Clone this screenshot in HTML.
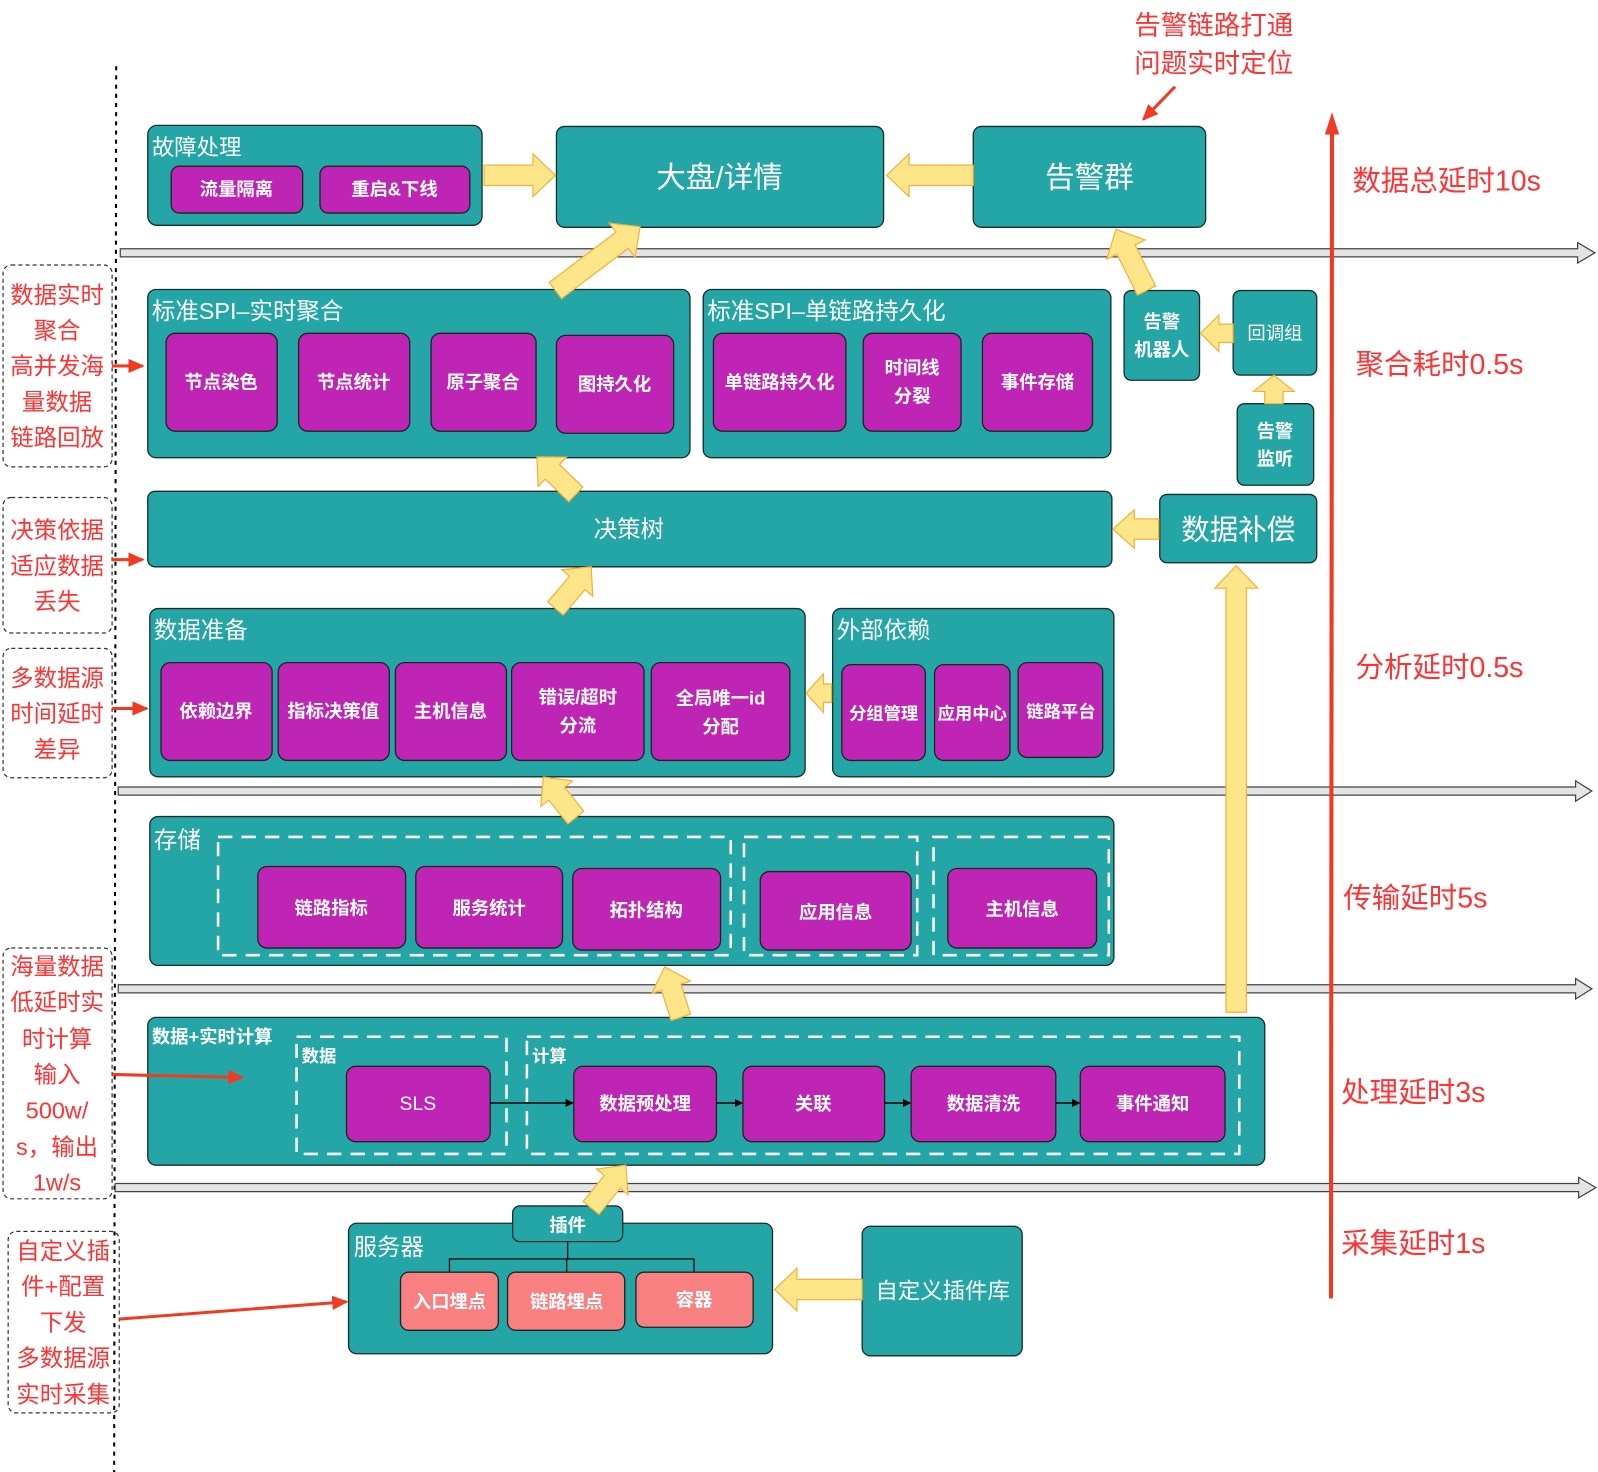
<!DOCTYPE html>
<html><head><meta charset="utf-8"><style>
html,body{margin:0;padding:0;background:#fff;width:1598px;height:1472px;overflow:hidden}
svg text{font-family:"Liberation Sans","Noto Sans CJK SC",sans-serif;}
.t{fill:#fff;font-weight:bold}
.r{fill:#f33;}
</style></head><body>
<svg width="1598" height="1472" viewBox="0 0 1568 1444" preserveAspectRatio="none" xmlns="http://www.w3.org/2000/svg">
<defs>
<marker id="bk" markerWidth="8" markerHeight="8" refX="7" refY="4" orient="auto" markerUnits="userSpaceOnUse"><path d="M0,0L8,4L0,8Z" fill="#000"/></marker>
<marker id="rd" markerWidth="16" markerHeight="14" refX="14" refY="7" orient="auto" markerUnits="userSpaceOnUse"><path d="M0,0L16,7L0,14Z" fill="#ee3b22"/></marker>
</defs>
<style>
.tb{fill:#24a6a6;stroke:#1b2e2e;stroke-width:1.3}
.pb{fill:#bf25b5;stroke:#222;stroke-width:1.3}
.sb{fill:#f88080;stroke:#222;stroke-width:1.3}
.ya{fill:#fde58a;stroke:#f2b13c;stroke-width:1.2}
.dash{fill:none;stroke:#fff;stroke-width:2.5;stroke-dasharray:14,9}
.nb{fill:none;stroke:#333;stroke-width:1.2;stroke-dasharray:4,3}
.sep{fill:#e4e4e4;stroke:#444;stroke-width:1.2}
</style>

<!-- dotted vertical -->
<line x1="114" y1="65" x2="112" y2="1444" stroke="#000" stroke-width="2" stroke-dasharray="4,5"/>

<!-- separators -->
<path class="sep" d="M118,244 H1548 V238 L1565,248 L1548,258 V252 H118 Z"/>
<path class="sep" d="M116,772 H1546 V766 L1562,776 L1546,786 V780 H116 Z"/>
<path class="sep" d="M116,966 H1546 V960 L1562,970 L1546,980 V974 H116 Z"/>
<path class="sep" d="M113,1161 H1549 V1155 L1566,1165 L1549,1175 V1169 H113 Z"/>

<!-- 故障处理 -->
<rect class="tb" x="145" y="123" width="328" height="98" rx="9"/>
<text class="t" x="149" y="152" font-size="22" font-weight="normal" style="font-weight:normal">故障处理</text>
<rect class="pb" x="168" y="163" width="129" height="46" rx="8"/>
<text class="t" x="232" y="192" font-size="18" text-anchor="middle">流量隔离</text>
<rect class="pb" x="314" y="163" width="147" height="46" rx="8"/>
<text class="t" x="387" y="192" font-size="18" text-anchor="middle">重启&amp;下线</text>

<rect class="tb" x="546" y="124" width="321" height="99" rx="8"/>
<text class="t" x="706" y="184" font-size="29" text-anchor="middle" style="font-weight:normal">大盘/详情</text>
<rect class="tb" x="955" y="124" width="228" height="99" rx="8"/>
<text class="t" x="1069" y="184" font-size="29" text-anchor="middle" style="font-weight:normal">告警群</text>

<!-- SPI 实时聚合 -->
<rect class="tb" x="145" y="284" width="532" height="165" rx="8"/>
<text class="t" x="149" y="313" font-size="23" style="font-weight:normal">标准SPI–实时聚合</text>
<rect class="pb" x="163" y="327" width="109" height="96" rx="9"/><text class="t" x="217" y="381" font-size="18" text-anchor="middle">节点染色</text>
<rect class="pb" x="293" y="327" width="109" height="96" rx="9"/><text class="t" x="347" y="381" font-size="18" text-anchor="middle">节点统计</text>
<rect class="pb" x="423" y="327" width="103" height="96" rx="9"/><text class="t" x="474" y="381" font-size="18" text-anchor="middle">原子聚合</text>
<rect class="pb" x="546" y="329" width="115" height="96" rx="9"/><text class="t" x="603" y="383" font-size="18" text-anchor="middle">图持久化</text>

<!-- SPI 单链路 -->
<rect class="tb" x="690" y="284" width="400" height="165" rx="8"/>
<text class="t" x="694" y="313" font-size="23" style="font-weight:normal">标准SPI–单链路持久化</text>
<rect class="pb" x="700" y="327" width="130" height="96" rx="9"/><text class="t" x="765" y="381" font-size="18" text-anchor="middle">单链路持久化</text>
<rect class="pb" x="847" y="327" width="96" height="96" rx="9"/><text class="t" x="895" y="367" font-size="18" text-anchor="middle">时间线</text><text class="t" x="895" y="395" font-size="18" text-anchor="middle">分裂</text>
<rect class="pb" x="964" y="327" width="108" height="96" rx="9"/><text class="t" x="1018" y="381" font-size="18" text-anchor="middle">事件存储</text>

<rect class="tb" x="1103" y="285" width="74" height="88" rx="7"/>
<text class="t" x="1140" y="322" font-size="18" text-anchor="middle">告警</text><text class="t" x="1140" y="349" font-size="18" text-anchor="middle">机器人</text>
<rect class="tb" x="1210" y="285" width="82" height="83" rx="7"/>
<text class="t" x="1251" y="333" font-size="18" text-anchor="middle" style="font-weight:normal">回调组</text>
<rect class="tb" x="1214" y="396" width="75" height="80" rx="7"/>
<text class="t" x="1251" y="429" font-size="18" text-anchor="middle">告警</text><text class="t" x="1251" y="456" font-size="18" text-anchor="middle">监听</text>

<!-- 决策树 -->
<rect class="tb" x="145" y="482" width="946" height="74" rx="7"/>
<text class="t" x="617" y="527" font-size="23" text-anchor="middle" style="font-weight:normal">决策树</text>
<rect class="tb" x="1138" y="485" width="154" height="67" rx="7"/>
<text class="t" x="1215" y="529" font-size="28" text-anchor="middle" style="font-weight:normal">数据补偿</text>

<!-- 数据准备 -->
<rect class="tb" x="147" y="597" width="643" height="165" rx="8"/>
<text class="t" x="151" y="626" font-size="23" style="font-weight:normal">数据准备</text>
<rect class="pb" x="158" y="650" width="109" height="96" rx="9"/><text class="t" x="212" y="704" font-size="18" text-anchor="middle">依赖边界</text>
<rect class="pb" x="273" y="650" width="109" height="96" rx="9"/><text class="t" x="327" y="704" font-size="18" text-anchor="middle">指标决策值</text>
<rect class="pb" x="388" y="650" width="109" height="96" rx="9"/><text class="t" x="442" y="704" font-size="18" text-anchor="middle">主机信息</text>
<rect class="pb" x="502" y="650" width="130" height="96" rx="9"/><text class="t" x="567" y="690" font-size="18" text-anchor="middle">错误/超时</text><text class="t" x="567" y="718" font-size="18" text-anchor="middle">分流</text>
<rect class="pb" x="639" y="650" width="136" height="96" rx="9"/><text class="t" x="707" y="691" font-size="18" text-anchor="middle">全局唯一id</text><text class="t" x="707" y="719" font-size="18" text-anchor="middle">分配</text>

<rect class="tb" x="817" y="597" width="276" height="165" rx="8"/>
<text class="t" x="821" y="626" font-size="23" style="font-weight:normal">外部依赖</text>
<rect class="pb" x="826" y="652" width="82" height="94" rx="9"/><text class="t" x="867" y="706" font-size="17" text-anchor="middle">分组管理</text>
<rect class="pb" x="917" y="652" width="74" height="94" rx="9"/><text class="t" x="954" y="706" font-size="17" text-anchor="middle">应用中心</text>
<rect class="pb" x="999" y="650" width="83" height="93" rx="9"/><text class="t" x="1041" y="704" font-size="17" text-anchor="middle">链路平台</text>

<!-- 存储 -->
<rect class="tb" x="147" y="801" width="946" height="146" rx="8"/>
<text class="t" x="151" y="832" font-size="23" style="font-weight:normal">存储</text>
<rect class="dash" x="214" y="821" width="503" height="116"/>
<rect class="dash" x="730" y="821" width="170" height="116"/>
<rect class="dash" x="916" y="821" width="172" height="116"/>
<rect class="pb" x="253" y="850" width="145" height="80" rx="9"/><text class="t" x="325" y="897" font-size="18" text-anchor="middle">链路指标</text>
<rect class="pb" x="408" y="850" width="144" height="80" rx="9"/><text class="t" x="480" y="897" font-size="18" text-anchor="middle">服务统计</text>
<rect class="pb" x="562" y="852" width="145" height="80" rx="9"/><text class="t" x="634" y="899" font-size="18" text-anchor="middle">拓扑结构</text>
<rect class="pb" x="746" y="855" width="148" height="77" rx="9"/><text class="t" x="820" y="901" font-size="18" text-anchor="middle">应用信息</text>
<rect class="pb" x="930" y="852" width="146" height="78" rx="9"/><text class="t" x="1003" y="898" font-size="18" text-anchor="middle">主机信息</text>

<!-- 数据+实时计算 -->
<rect class="tb" x="145" y="998" width="1096" height="145" rx="8"/>
<text class="t" x="149" y="1023" font-size="18">数据+实时计算</text>
<rect class="dash" x="291" y="1017" width="206" height="115"/>
<rect class="dash" x="517" y="1017" width="699" height="115"/>
<text class="t" x="296" y="1042" font-size="17">数据</text>
<text class="t" x="522" y="1042" font-size="17">计算</text>
<rect class="pb" x="340" y="1046" width="141" height="74" rx="9"/><text class="t" x="410" y="1089" font-size="19" text-anchor="middle" style="font-weight:normal">SLS</text>
<rect class="pb" x="563" y="1046" width="140" height="74" rx="9"/><text class="t" x="633" y="1089" font-size="18" text-anchor="middle">数据预处理</text>
<rect class="pb" x="729" y="1046" width="139" height="74" rx="9"/><text class="t" x="798" y="1089" font-size="18" text-anchor="middle">关联</text>
<rect class="pb" x="894" y="1046" width="142" height="74" rx="9"/><text class="t" x="965" y="1089" font-size="18" text-anchor="middle">数据清洗</text>
<rect class="pb" x="1060" y="1046" width="142" height="74" rx="9"/><text class="t" x="1131" y="1089" font-size="18" text-anchor="middle">事件通知</text>
<line x1="481" y1="1082" x2="562" y2="1082" stroke="#000" stroke-width="1.5" marker-end="url(#bk)"/>
<line x1="703" y1="1082" x2="728" y2="1082" stroke="#000" stroke-width="1.5" marker-end="url(#bk)"/>
<line x1="868" y1="1082" x2="893" y2="1082" stroke="#000" stroke-width="1.5" marker-end="url(#bk)"/>
<line x1="1036" y1="1082" x2="1059" y2="1082" stroke="#000" stroke-width="1.5" marker-end="url(#bk)"/>

<!-- 服务器 -->
<rect class="tb" x="342" y="1200" width="416" height="128" rx="8"/>
<text class="t" x="347" y="1231" font-size="23" style="font-weight:normal">服务器</text>
<rect class="tb" x="503" y="1183" width="108" height="35" rx="7"/>
<text class="t" x="557" y="1208" font-size="18" text-anchor="middle">插件</text>
<path d="M557,1218V1235M441,1248V1235H681V1248M556,1235V1248" stroke="#111" stroke-width="1.3" fill="none"/>
<rect class="sb" x="393" y="1248" width="96" height="57" rx="8"/><text class="t" x="441" y="1283" font-size="18" text-anchor="middle">入口埋点</text>
<rect class="sb" x="498" y="1248" width="115" height="57" rx="8"/><text class="t" x="556" y="1283" font-size="18" text-anchor="middle">链路埋点</text>
<rect class="sb" x="624" y="1248" width="115" height="54" rx="8"/><text class="t" x="681" y="1281" font-size="18" text-anchor="middle">容器</text>
<rect class="tb" x="846" y="1203" width="157" height="127" rx="8"/>
<text class="t" x="925" y="1274" font-size="22" text-anchor="middle" style="font-weight:normal">自定义插件库</text>

<!-- yellow arrows -->
<g>
<path class="ya" transform="translate(475,172)" d="M0,-10 L48,-10 L48,-21 L70,0 L48,21 L48,10 L0,10Z"/>
<path class="ya" transform="translate(955,172) rotate(180)" d="M0,-10 L63,-10 L63,-21 L85,0 L63,21 L63,10 L0,10Z"/>
<path class="ya" transform="translate(545,285) rotate(-37)" d="M0,-10 L82,-10 L82,-21 L104,0 L82,21 L82,10 L0,10Z"/>
<path class="ya" transform="translate(1125,285) rotate(-116.6)" d="M0,-10 L45,-10 L45,-21 L67,0 L45,21 L45,10 L0,10Z"/>
<path class="ya" transform="translate(1210,327) rotate(180)" d="M0,-9 L14,-9 L14,-18 L32,0 L14,18 L14,9 L0,9Z"/>
<path class="ya" transform="translate(1250,396) rotate(-90)" d="M0,-9 L12,-9 L12,-20 L28,0 L12,20 L12,9 L0,9Z"/>
<path class="ya" transform="translate(1137,519) rotate(180)" d="M0,-10 L24,-10 L24,-19 L45,0 L24,19 L24,10 L0,10Z"/>
<path class="ya" transform="translate(1213,993) rotate(-90)" d="M0,-10 L416,-10 L416,-21 L438,0 L416,21 L416,10 L0,10Z"/>
<path class="ya" transform="translate(565,485) rotate(-136)" d="M0,-10 L32,-10 L32,-20 L53,0 L32,20 L32,10 L0,10Z"/>
<path class="ya" transform="translate(545,597) rotate(-49.5)" d="M0,-10 L33,-10 L33,-20 L54,0 L33,20 L33,10 L0,10Z"/>
<path class="ya" transform="translate(816,680) rotate(180)" d="M0,-9 L8,-9 L8,-19 L25,0 L8,19 L8,9 L0,9Z"/>
<path class="ya" transform="translate(565,802) rotate(-128.7)" d="M0,-10 L30,-10 L30,-20 L51,0 L30,20 L30,10 L0,10Z"/>
<path class="ya" transform="translate(668,998) rotate(-107.7)" d="M0,-10 L31,-10 L31,-20 L52,0 L31,20 L31,10 L0,10Z"/>
<path class="ya" transform="translate(580,1185) rotate(-51)" d="M0,-10 L33,-10 L33,-20 L54,0 L33,20 L33,10 L0,10Z"/>
<path class="ya" transform="translate(846,1265) rotate(180)" d="M0,-10 L64,-10 L64,-21 L86,0 L64,21 L64,10 L0,10Z"/>
</g>

<!-- red vertical -->
<line x1="1306" y1="1272" x2="1307" y2="130" stroke="#ee3b22" stroke-width="4" stroke-linecap="round"/>
<path d="M1300,132 L1307,110 L1314,132 Z" fill="#ee3b22"/>
<g class="r" font-size="28">
<text x="1327" y="187">数据总延时10s</text>
<text x="1330" y="367">聚合耗时0.5s</text>
<text x="1330" y="664">分析延时0.5s</text>
<text x="1318" y="890">传输延时5s</text>
<text x="1316" y="1081">处理延时3s</text>
<text x="1316" y="1229">采集延时1s</text>
</g>
<g class="r" font-size="26" text-anchor="middle">
<text x="1191" y="34">告警链路打通</text>
<text x="1191" y="71">问题实时定位</text>
</g>
<line x1="1153" y1="85" x2="1122" y2="117" stroke="#ee3b22" stroke-width="3" marker-end="url(#rd)"/>

<!-- left notes -->
<rect class="nb" x="3" y="260" width="107" height="198" rx="8"/>
<rect class="nb" x="3" y="488" width="107" height="133" rx="8"/>
<rect class="nb" x="3" y="636" width="107" height="127" rx="8"/>
<rect class="nb" x="3" y="930" width="107" height="246" rx="8"/>
<rect class="nb" x="8" y="1208" width="109" height="178" rx="8"/>
<g class="r" font-size="23" text-anchor="middle">
<text x="56" y="297">数据实时</text><text x="56" y="332">聚合</text><text x="56" y="367">高并发海</text><text x="56" y="402">量数据</text><text x="56" y="437">链路回放</text>
<text x="56" y="528">决策依据</text><text x="56" y="563">适应数据</text><text x="56" y="598">丢失</text>
<text x="56" y="673">多数据源</text><text x="56" y="708">时间延时</text><text x="56" y="743">差异</text>
<text x="56" y="956">海量数据</text><text x="56" y="991">低延时实</text><text x="56" y="1027">时计算</text><text x="56" y="1062">输入</text><text x="56" y="1097">500w/</text><text x="56" y="1133">s，输出</text><text x="56" y="1168">1w/s</text>
<text x="62" y="1235">自定义插</text><text x="62" y="1270">件+配置</text><text x="62" y="1305">下发</text><text x="62" y="1340">多数据源</text><text x="62" y="1376">实时采集</text>
</g>
<g stroke="#ee3b22" stroke-width="3">
<line x1="110" y1="359" x2="140" y2="359" marker-end="url(#rd)"/>
<line x1="110" y1="549" x2="140" y2="549" marker-end="url(#rd)"/>
<line x1="110" y1="695" x2="144" y2="695" marker-end="url(#rd)"/>
<line x1="110" y1="1054" x2="238" y2="1057" marker-end="url(#rd)"/>
<line x1="117" y1="1294" x2="340" y2="1277" marker-end="url(#rd)"/>
</g>
</svg>
</body></html>
